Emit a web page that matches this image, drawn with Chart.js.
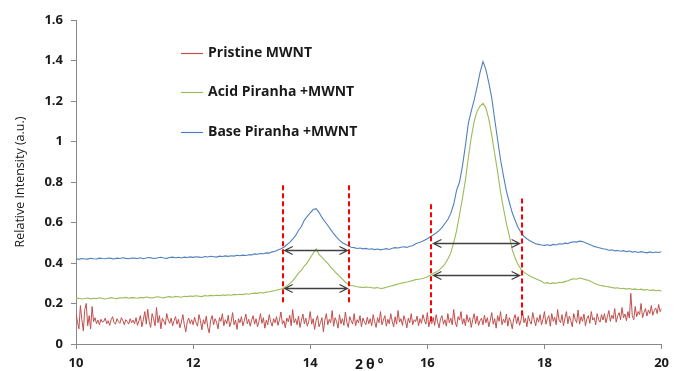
<!DOCTYPE html>
<html>
<head>
<meta charset="utf-8">
<script src="https://cdn.jsdelivr.net/npm/chart.js@4"></script>
<style>
  html, body { margin: 0; padding: 0; background: #fff; }
</style>
</head>
<body>
<canvas id="xrd" width="675" height="371"></canvas>
<script>
// 2θ sampling of the scans
const thetaStart = 10;
const thetaStep = 0.05;        // treated samples
const pristineStep = 0.025;    // pristine scan is sampled finer

const pristine = [
  0.150,0.110,0.075,0.190,0.120,0.065,0.170,0.200,0.090,0.140, 0.075,0.185,0.110,0.130,0.100,0.118,0.095,0.122,0.108,0.112,
  0.128,0.100,0.115,0.092,0.120,0.135,0.105,0.098,0.125,0.110, 0.102,0.130,0.115,0.095,0.120,0.112,0.098,0.125,0.105,0.118,
  0.100,0.130,0.092,0.115,0.140,0.085,0.120,0.160,0.098,0.172, 0.110,0.082,0.150,0.125,0.090,0.180,0.105,0.140,0.075,0.128,
  0.112,0.095,0.150,0.118,0.102,0.128,0.090,0.115,0.135,0.098, 0.122,0.080,0.108,0.145,0.095,0.060,0.110,0.128,0.100,0.120,
  0.095,0.132,0.105,0.088,0.145,0.115,0.070,0.120,0.098,0.138, 0.082,0.055,0.118,0.140,0.095,0.125,0.108,0.075,0.130,0.112,
  0.150,0.090,0.120,0.100,0.142,0.085,0.110,0.155,0.095,0.118, 0.072,0.125,0.105,0.135,0.090,0.115,0.148,0.100,0.122,0.088,
  0.118,0.140,0.098,0.125,0.085,0.112,0.150,0.102,0.130,0.078, 0.118,0.095,0.145,0.110,0.088,0.125,0.105,0.135,0.092,0.120,
  0.158,0.098,0.115,0.080,0.128,0.110,0.142,0.090,0.170,0.105, 0.125,0.095,0.138,0.082,0.118,0.148,0.100,0.128,0.088,0.112,
  0.160,0.098,0.125,0.072,0.115,0.140,0.085,0.105,0.130,0.060, 0.118,0.150,0.095,0.122,0.105,0.165,0.088,0.130,0.112,0.078,
  0.145,0.100,0.125,0.092,0.158,0.108,0.082,0.135,0.115,0.098, 0.150,0.090,0.120,0.105,0.140,0.085,0.128,0.110,0.095,0.132,
  0.100,0.125,0.090,0.145,0.110,0.082,0.130,0.105,0.160,0.095, 0.118,0.140,0.088,0.122,0.100,0.150,0.112,0.085,0.135,0.098,
  0.165,0.108,0.125,0.092,0.140,0.115,0.080,0.128,0.105,0.150, 0.095,0.120,0.110,0.138,0.090,0.125,0.102,0.145,0.118,0.098,
  0.155,0.085,0.118,0.100,0.132,0.092,0.145,0.110,0.080,0.125, 0.140,0.098,0.120,0.088,0.150,0.105,0.128,0.095,0.170,0.110,
  0.085,0.135,0.118,0.160,0.098,0.125,0.090,0.145,0.108,0.130, 0.082,0.120,0.150,0.100,0.138,0.092,0.115,0.128,0.095,0.142,
  0.105,0.130,0.085,0.118,0.155,0.098,0.125,0.078,0.140,0.112, 0.160,0.095,0.122,0.105,0.148,0.088,0.130,0.110,0.075,0.125,
  0.145,0.100,0.135,0.092,0.118,0.165,0.105,0.128,0.085,0.140, 0.112,0.098,0.155,0.120,0.090,0.130,0.108,0.145,0.095,0.122,
  0.160,0.098,0.125,0.140,0.088,0.150,0.112,0.132,0.095,0.170, 0.118,0.105,0.145,0.090,0.128,0.160,0.100,0.138,0.115,0.085,
  0.150,0.122,0.105,0.168,0.098,0.135,0.112,0.148,0.090,0.125, 0.140,0.102,0.160,0.118,0.130,0.095,0.150,0.120,0.108,0.145,
  0.118,0.150,0.105,0.135,0.165,0.112,0.142,0.125,0.175,0.108, 0.138,0.155,0.120,0.180,0.130,0.148,0.115,0.160,0.128,0.250,
  0.140,0.120,0.185,0.135,0.160,0.145,0.200,0.130,0.155,0.175, 0.138,0.168,0.150,0.190,0.142,0.165,0.178,0.150,0.195,0.160,
  0.175
];

const acidPiranha = [
  0.224,0.226,0.222,0.225,0.227,0.223,0.226,0.224,0.228,0.225,0.222,0.226,0.229,0.226,0.224,0.228,0.227,0.230,0.226,0.229,
  0.228,0.226,0.230,0.228,0.232,0.229,0.227,0.231,0.233,0.230,0.228,0.232,0.234,0.231,0.235,0.233,0.231,0.236,0.234,0.237,
  0.235,0.238,0.236,0.234,0.239,0.237,0.240,0.238,0.241,0.239,0.242,0.240,0.243,0.241,0.245,0.243,0.246,0.244,0.248,0.246,
  0.249,0.251,0.250,0.254,0.252,0.256,0.258,0.261,0.264,0.268,0.272,0.278,0.287,0.298,0.312,0.330,0.350,0.365,0.385,0.402,
  0.425,0.448,0.470,0.442,0.428,0.412,0.398,0.380,0.365,0.348,0.335,0.320,0.305,0.294,0.289,0.286,0.283,0.281,0.279,0.281,
  0.280,0.278,0.276,0.279,0.274,0.276,0.280,0.284,0.288,0.292,0.296,0.300,0.303,0.306,0.310,0.313,0.318,0.320,0.322,0.326,
  0.332,0.340,0.348,0.355,0.365,0.378,0.395,0.420,0.450,0.500,0.560,0.640,0.720,0.810,0.920,1.020,1.100,1.150,1.175,1.188,
  1.165,1.110,1.030,0.940,0.850,0.750,0.670,0.595,0.535,0.465,0.425,0.392,0.368,0.355,0.345,0.336,0.328,0.322,0.316,0.310,
  0.300,0.303,0.298,0.302,0.300,0.305,0.303,0.308,0.312,0.318,0.322,0.320,0.326,0.322,0.318,0.315,0.308,0.300,0.294,0.290,
  0.287,0.284,0.282,0.279,0.276,0.278,0.273,0.275,0.271,0.274,0.270,0.272,0.268,0.271,0.266,0.269,0.264,0.267,0.263,0.265,0.261
];

const basePiranha = [
  0.421,0.418,0.422,0.420,0.419,0.423,0.421,0.420,0.424,0.422,0.421,0.425,0.423,0.420,0.424,0.422,0.426,0.423,0.421,0.425,
  0.424,0.422,0.426,0.421,0.425,0.427,0.424,0.422,0.426,0.428,0.425,0.423,0.427,0.429,0.426,0.428,0.425,0.429,0.427,0.430,
  0.428,0.431,0.429,0.427,0.432,0.430,0.433,0.431,0.429,0.434,0.432,0.435,0.433,0.436,0.434,0.438,0.436,0.439,0.437,0.441,
  0.440,0.445,0.443,0.447,0.446,0.450,0.449,0.455,0.458,0.464,0.470,0.478,0.490,0.502,0.518,0.535,0.562,0.580,0.612,0.630,
  0.648,0.664,0.668,0.650,0.625,0.605,0.585,0.565,0.545,0.528,0.512,0.500,0.493,0.485,0.478,0.476,0.472,0.474,0.470,0.472,
  0.468,0.470,0.466,0.469,0.465,0.468,0.471,0.467,0.473,0.476,0.474,0.478,0.480,0.477,0.483,0.485,0.495,0.500,0.505,0.512,
  0.520,0.530,0.538,0.548,0.560,0.575,0.595,0.615,0.645,0.690,0.760,0.800,0.880,0.980,1.090,1.150,1.205,1.270,1.340,1.395,
  1.355,1.290,1.215,1.110,1.010,0.910,0.830,0.755,0.700,0.648,0.610,0.575,0.550,0.532,0.520,0.510,0.502,0.495,0.492,0.489,
  0.487,0.490,0.486,0.492,0.489,0.495,0.493,0.498,0.496,0.502,0.505,0.503,0.508,0.506,0.500,0.494,0.488,0.482,0.478,0.474,
  0.470,0.468,0.463,0.465,0.460,0.462,0.458,0.461,0.456,0.459,0.454,0.457,0.452,0.456,0.453,0.450,0.455,0.451,0.454,0.452,0.456
];

const seriesNames = ["Pristine MWNT", "Acid Piranha +MWNT", "Base Piranha +MWNT"];
const seriesColors = ["#C0504D", "#9BBB59", "#4F81BD"];

// red dashed markers: [2θ, bottom, top]
const markers = [[13.53, 0.195, 0.784], [14.67, 0.195, 0.784], [16.07, 0.103, 0.69], [17.61, 0.129, 0.718]];
// double arrows (FWHM): [from 2θ, to 2θ, level]
const arrows = [[13.53, 14.67, 0.466], [13.53, 14.67, 0.278], [16.07, 17.61, 0.498], [16.07, 17.61, 0.339]];

const FONT = "'Open Sans', sans-serif";

function toPoints(vals, step) {
  return vals.map((v, i) => ({ x: thetaStart + i * step, y: v }));
}

// dashed lines, arrows, legend, x title
const overlay = {
  id: "overlay",
  afterDatasetsDraw(chart) {
    const { ctx, chartArea, scales: { x, y } } = chart;
    ctx.save();

    ctx.strokeStyle = "#FF0000";
    ctx.lineWidth = 2;
    ctx.setLineDash([5, 3]);
    markers.forEach(m => {
      const px = Math.round(x.getPixelForValue(m[0]));
      ctx.beginPath();
      ctx.moveTo(px, y.getPixelForValue(m[2]));
      ctx.lineTo(px, y.getPixelForValue(m[1]));
      ctx.stroke();
    });
    ctx.setLineDash([]);

    ctx.strokeStyle = "#404040";
    ctx.lineWidth = 1.3;
    arrows.forEach(a => {
      const x1 = x.getPixelForValue(a[0]) + 2;
      const x2 = x.getPixelForValue(a[1]) - 2;
      const py = Math.round(y.getPixelForValue(a[2])) + 0.5;
      ctx.beginPath();
      ctx.moveTo(x1, py);
      ctx.lineTo(x2, py);
      ctx.moveTo(x1 + 8, py - 4);
      ctx.lineTo(x1, py);
      ctx.lineTo(x1 + 8, py + 4);
      ctx.moveTo(x2 - 8, py - 4);
      ctx.lineTo(x2, py);
      ctx.lineTo(x2 - 8, py + 4);
      ctx.stroke();
    });

    // legend
    const legY = [53, 92, 132];
    ctx.font = "bold 14px " + FONT;
    ctx.textBaseline = "middle";
    ctx.textAlign = "left";
    seriesNames.forEach((name, i) => {
      ctx.strokeStyle = seriesColors[i];
      ctx.lineWidth = 1.2;
      ctx.beginPath();
      ctx.moveTo(181, legY[i] + 0.5);
      ctx.lineTo(203, legY[i] + 0.5);
      ctx.stroke();
      ctx.fillStyle = "#1a1a1a";
      ctx.fillText(name, 208, legY[i]);
    });

    // x axis title sits on the tick label row
    ctx.font = "bold 14px " + FONT;
    ctx.letterSpacing = "3px";
    ctx.textAlign = "center";
    ctx.fillText("2θ°", (chartArea.left + chartArea.right) / 2 + 2, chartArea.bottom + 21);

    ctx.restore();
  }
};

new Chart(document.getElementById("xrd"), {
  type: "line",
  data: {
    datasets: [
      { label: seriesNames[0], data: toPoints(pristine, pristineStep), borderColor: seriesColors[0], borderWidth: 1 },
      { label: seriesNames[1], data: toPoints(acidPiranha, thetaStep), borderColor: seriesColors[1] },
      { label: seriesNames[2], data: toPoints(basePiranha, thetaStep), borderColor: seriesColors[2] }
    ]
  },
  options: {
    responsive: false,
    animation: false,
    devicePixelRatio: 1,
    layout: { padding: { top: 20, right: 12, left: 0, bottom: 0 } },
    elements: {
      point: { radius: 0 },
      line: { borderWidth: 1.1, tension: 0 }
    },
    plugins: {
      legend: { display: false },
      tooltip: { enabled: false }
    },
    scales: {
      x: {
        type: "linear",
        min: 10,
        max: 20,
        afterFit: s => { s.height = 27; },
        ticks: { stepSize: 2, padding: 6, color: "#1a1a1a", font: { family: FONT, size: 13, weight: "bold" } },
        grid: { drawOnChartArea: false, drawTicks: true, tickLength: 5, color: "#888" },
        border: { color: "#888" }
      },
      y: {
        min: 0,
        max: 1.6,
        afterFit: s => { s.width = 76; },
        ticks: {
          stepSize: 0.2,
          padding: 8,
          color: "#1a1a1a",
          font: { family: FONT, size: 13, weight: "bold" },
          callback: v => String(parseFloat(v.toFixed(1)))
        },
        grid: { drawOnChartArea: false, drawTicks: true, tickLength: 5, color: "#888" },
        border: { color: "#888" },
        title: { display: true, text: "Relative Intensity (a.u.)", color: "#1a1a1a", font: { family: FONT, size: 12.5 }, padding: { top: 13, bottom: 0 } }
      }
    }
  },
  plugins: [overlay]
});
</script>
</body>
</html>
